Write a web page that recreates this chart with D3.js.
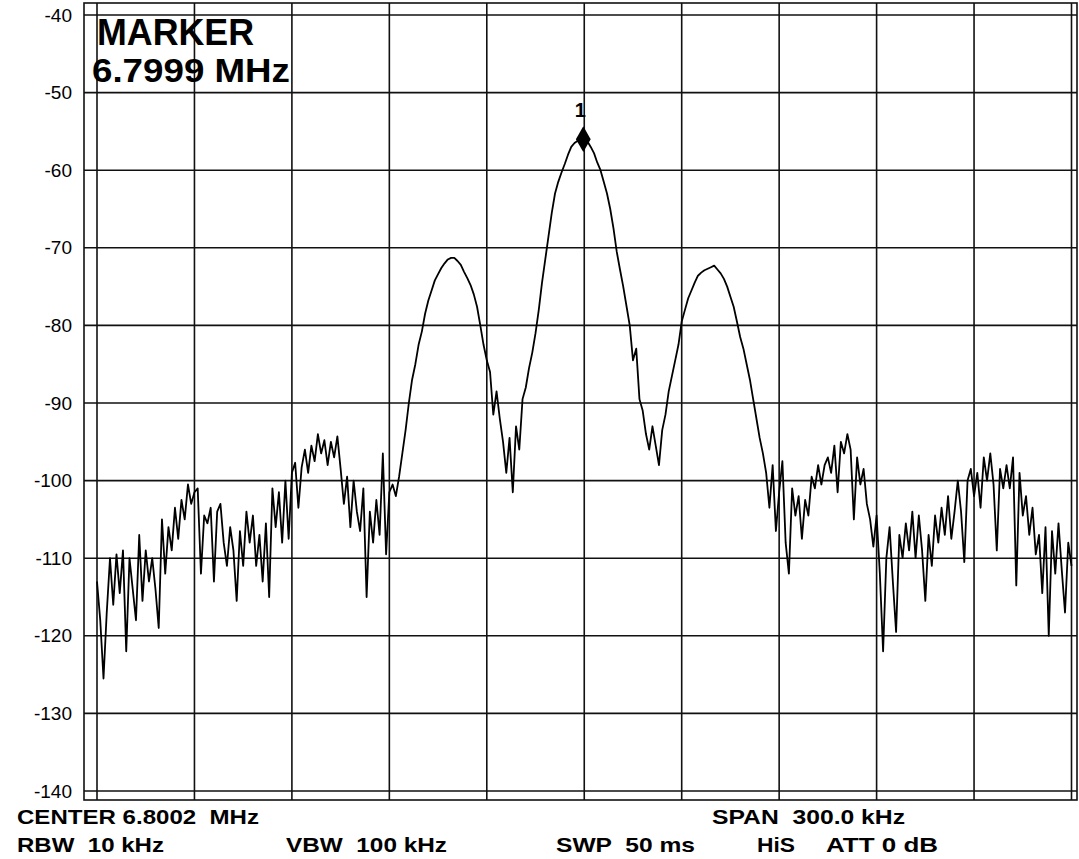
<!DOCTYPE html>
<html>
<head>
<meta charset="utf-8">
<script src="https://cdn.jsdelivr.net/npm/d3@7"></script>
<style>
  body { margin: 0; background: #fff; }
  svg { display: block; }
  text { font-family: Arial, "Liberation Sans", sans-serif; fill: #000; }
  .info { font-weight: bold; white-space: pre; }
</style>
</head>
<body>
<svg id="chart"></svg>
<script>
// trace level in dBm, one sample per kHz from -150 to +150 kHz around centre
const levels = [
  -113, -118, -125.5, -117, -110, -116, -109.5, -114.5, -109, -122,
  -110, -114, -118, -107, -115.5, -109, -113, -110, -114, -119,
  -105, -112, -106, -109, -103.5, -107.5, -102.5, -105, -100.5, -103,
  -101.5, -101, -112, -104.5, -105.5, -103.5, -113, -104, -103, -108,
  -111, -106, -109, -115.5, -106.5, -111, -104, -108, -104.5, -111,
  -107, -113, -105.5, -115, -101, -106, -101.5, -108, -100, -107.5,
  -99, -97.7, -103.5, -98.3, -96, -99, -95.5, -97.5, -94, -96.5,
  -94.8, -98, -95, -97, -94.3, -98.5, -103, -99.5, -106, -100,
  -104, -106.5, -101, -115, -104, -108, -102.5, -107, -96.5, -109.5,
  -101.5, -100.5, -102, -99.5, -96.5, -93.5, -90, -87, -85, -82.5,
  -80.8, -78.5, -76.8, -75.5, -74.2, -73.4, -72.6, -72, -71.5, -71.3,
  -71.3, -71.7, -72.2, -73.1, -73.9, -74.8, -76, -77.6, -80, -82.5,
  -84.5, -86, -91.5, -88.5, -92, -95, -99, -94.5, -101.5, -93,
  -96, -89.5, -88, -85.5, -83.5, -81, -78, -74.5, -71.5, -68.5,
  -65.5, -63, -61.5, -60.3, -59.2, -58, -57, -56.5, -56.2, -56,
  -56, -56.3, -57, -57.8, -59, -60, -61.5, -63, -65, -67.5,
  -70.5, -72.8, -75, -77.5, -80, -84.5, -83, -89.5, -91, -94,
  -96, -93, -95.5, -98, -93.5, -91.5, -88.5, -86.5, -84.5, -82.5,
  -79.5, -78, -76.5, -75.5, -74.5, -73.6, -73.2, -72.9, -72.7, -72.5,
  -72.3, -72.8, -73.3, -74, -75, -76.3, -77.6, -79.5, -81.5, -83,
  -85, -87, -89.5, -92, -94.5, -96.5, -99, -103.5, -98, -106.5,
  -101.5, -97.5, -108, -112, -101, -104.5, -102, -107.5, -102.5, -104.5,
  -99.5, -101, -98, -100.5, -98, -97, -99, -95.5, -101.5, -95,
  -96.5, -94, -96, -105, -97, -100.5, -98.5, -103, -105, -108.5,
  -104.5, -112, -122, -110, -106, -113, -119.5, -107, -110, -105.5,
  -109, -104, -110, -104.5, -109, -115.5, -107, -111, -104.5, -108,
  -103.5, -107, -102, -107.5, -104, -100, -104, -110.5, -100, -98.5,
  -102, -99, -103.5, -97, -100, -96.5, -100.5, -109, -98.5, -101,
  -98, -101, -97, -113.5, -99, -104.5, -102, -107, -103.5, -109.5,
  -107, -114.5, -106, -120, -106.5, -112, -105.5, -111.5, -117, -108,
  -111
];
const startKHz = -150;

const yTicks = [-140, -130, -120, -110, -100, -90, -80, -70, -60, -50, -40];
const xGrid = [-150, -120, -90, -60, -30, 0, 30, 60, 90, 120, 150];

// marker 1
const markerKHz = [-0.3];
const markerDb = [-56];
const markerText = ["MARKER", "6.7999 MHz"];

// bottom status lines: text, x, row, width
const infoLines = [
  ["CENTER 6.8002  MHz", 17, 0, 242],
  ["SPAN  300.0 kHz", 712, 0, 193],
  ["RBW  10 kHz", 17, 1, 147],
  ["VBW  100 kHz", 286, 1, 161],
  ["SWP  50 ms", 556, 1, 139],
  ["HiS", 757, 1, 38],
  ["ATT 0 dB", 826, 1, 112]
];

const width = 1079, height = 859;
const frame = { left: 84, top: 3, right: 1077, bottom: 800 };

const svg = d3.select("#chart")
  .attr("width", width)
  .attr("height", height);

svg.append("rect").attr("width", width).attr("height", height).attr("fill", "#fff");

const x = d3.scaleLinear().domain([-150, 150]).range([97, 1071.5]);
const y = d3.scaleLinear().domain([-140, -40]).range([791, 15]);

// outer frame
svg.append("rect")
  .attr("x", frame.left)
  .attr("y", frame.top)
  .attr("width", frame.right - frame.left)
  .attr("height", frame.bottom - frame.top)
  .attr("fill", "none")
  .attr("stroke", "#111")
  .attr("stroke-width", 1.6);

// grid
const grid = svg.append("g").attr("stroke", "#111").attr("stroke-width", 1.6);
grid.selectAll(".vg")
  .data(xGrid)
  .join("line")
  .attr("class", "vg")
  .attr("x1", d => x(d)).attr("x2", d => x(d))
  .attr("y1", frame.top).attr("y2", frame.bottom);
grid.selectAll(".hg")
  .data(yTicks)
  .join("line")
  .attr("class", "hg")
  .attr("x1", frame.left).attr("x2", frame.right)
  .attr("y1", d => y(d)).attr("y2", d => y(d));

// y labels
const yAxis = d3.axisLeft(y)
  .tickValues(yTicks)
  .tickSize(0)
  .tickPadding(12)
  .tickFormat(d => d);

svg.append("g")
  .attr("transform", `translate(${frame.left},0)`)
  .call(yAxis)
  .call(g => g.select(".domain").remove())
  .selectAll("text")
  .attr("font-size", 19)
  .attr("font-family", "Arial, 'Liberation Sans', sans-serif")
  .attr("fill", "#000");

// trace
const line = d3.line()
  .x((d, i) => x(startKHz + i))
  .y(d => y(d));

svg.append("path")
  .datum(levels)
  .attr("fill", "none")
  .attr("stroke", "#000")
  .attr("stroke-width", 1.8)
  .attr("stroke-linejoin", "round")
  .attr("d", line);

// marker diamond + label
svg.append("path")
  .attr("d", d3.symbol(d3.symbolDiamond, 190)())
  .attr("transform", `translate(${x(markerKHz[0])},${y(markerDb[0])})`)
  .attr("fill", "#000");

svg.append("text")
  .attr("x", x(markerKHz[0]) - 3)
  .attr("y", y(markerDb[0]) - 22)
  .attr("font-size", 20)
  .attr("font-weight", "bold")
  .attr("text-anchor", "middle")
  .text("1");

// marker readout
svg.append("text")
  .attr("class", "info")
  .attr("x", 97).attr("y", 45)
  .attr("font-size", 36)
  .attr("textLength", 157)
  .attr("lengthAdjust", "spacingAndGlyphs")
  .text(markerText[0]);
svg.append("text")
  .attr("class", "info")
  .attr("x", 92).attr("y", 82)
  .attr("font-size", 33)
  .attr("textLength", 198)
  .attr("lengthAdjust", "spacingAndGlyphs")
  .text(markerText[1]);

// status lines
svg.selectAll(".status")
  .data(infoLines)
  .join("text")
  .attr("class", "info status")
  .attr("x", d => d[1])
  .attr("y", d => d[2] === 0 ? 824 : 852)
  .attr("font-size", 21)
  .attr("textLength", d => d[3])
  .attr("lengthAdjust", "spacingAndGlyphs")
  .text(d => d[0]);
</script>
</body>
</html>
